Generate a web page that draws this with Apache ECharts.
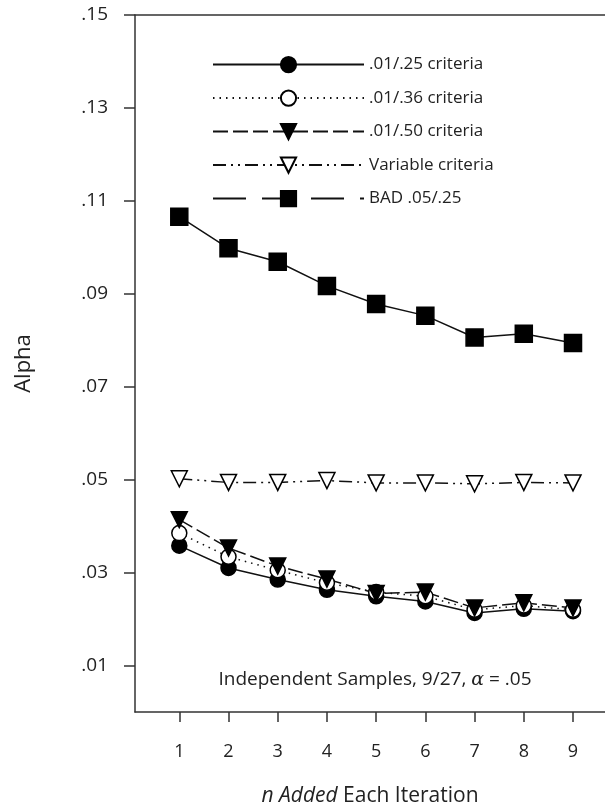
<!DOCTYPE html>
<html>
<head>
<meta charset="utf-8">
<script src="https://cdn.jsdelivr.net/npm/echarts@6/dist/echarts.min.js"></script>
<style>html,body{margin:0;padding:0;background:#fff}#c{width:605px;height:807px}</style>
</head>
<body>
<div id="c"></div>
<script>
const iterations = [1, 2, 3, 4, 5, 6, 7, 8, 9];
const yTicks = [0.01, 0.03, 0.05, 0.07, 0.09, 0.11, 0.13, 0.15];
const seriesNames = ['.01/.25 criteria', '.01/.36 criteria', '.01/.50 criteria', 'Variable criteria', 'BAD .05/.25'];
const crit25 = [0.0358, 0.0310, 0.0285, 0.0263, 0.0249, 0.0238, 0.0213, 0.0222, 0.0217];
const crit36 = [0.0385, 0.0334, 0.0305, 0.0278, 0.0258, 0.0249, 0.0220, 0.0229, 0.0220];
const crit50 = [0.0414, 0.0353, 0.0314, 0.0286, 0.0255, 0.0258, 0.0224, 0.0235, 0.0224];
const variableCrit = [0.0502, 0.0494, 0.0494, 0.0498, 0.0493, 0.0493, 0.0491, 0.0494, 0.0493];
const bad = [0.1066, 0.0998, 0.0969, 0.0917, 0.0878, 0.0853, 0.0806, 0.0814, 0.0794];

const FONT = '"Open Sans", "Noto Sans", sans-serif';
const pairs = arr => iterations.map((x, i) => [x, arr[i]]);

function mk(name, data, symbol, size, fill, dash, rotate) {
  return {
    name: name, type: 'line', data: pairs(data),
    symbol: symbol, symbolSize: size, symbolRotate: rotate || 0,
    showAllSymbol: true,
    lineStyle: { color: '#111', width: 1.5, type: dash },
    itemStyle: { color: fill, borderColor: '#000', borderWidth: 1.5, opacity: 1 },
    emphasis: { disabled: true },
    animation: false
  };
}

const chart = echarts.init(document.getElementById('c'), null, { renderer: 'canvas' });
chart.setOption({
  backgroundColor: '#fff',
  animation: false,
  textStyle: { fontFamily: FONT },
  grid: { left: 135, right: 0, top: 15, bottom: 95, outerBoundsMode: 'none' },
  legend: {
    orient: 'vertical', left: 212, top: 56, padding: 0,
    itemWidth: 151, itemHeight: 19, itemGap: 16.3,
    data: [
      { name: seriesNames[0] },
      { name: seriesNames[1] },
      { name: seriesNames[2] },
      { name: seriesNames[3] },
      { name: seriesNames[4], lineStyle: { type: [33, 16] } }
    ],
    textStyle: { fontFamily: FONT, fontSize: 17, color: '#222' },
    selectedMode: false
  },
  xAxis: [{
    type: 'value', min: 0.1, max: 9.65,
    name: '{i|n Added} Each Iteration', nameLocation: 'middle', nameGap: 74,
    nameTextStyle: { fontFamily: FONT, fontSize: 21, color: '#222',
      rich: { i: { fontStyle: 'italic', fontSize: 21, fontFamily: FONT, color: '#222' } } },
    axisLine: { show: true, lineStyle: { color: '#333', width: 1.5 } },
    axisTick: { show: true, length: 10, customValues: iterations, lineStyle: { color: '#333', width: 1.5 } },
    axisLabel: { customValues: iterations, margin: 31, fontSize: 18, color: '#222', fontFamily: FONT },
    splitLine: { show: false }
  }, {
    type: 'value', min: 0.1, max: 9.65, position: 'top',
    axisLine: { show: true, lineStyle: { color: '#333', width: 1.5 } },
    axisTick: { show: false }, axisLabel: { show: false }, splitLine: { show: false }
  }],
  yAxis: {
    type: 'value', min: 0, max: 0.15,
    name: 'Alpha', nameLocation: 'middle', nameGap: 100, nameRotate: 90,
    nameTextStyle: { fontFamily: FONT, fontSize: 22, color: '#222' },
    axisLine: { show: true, lineStyle: { color: '#333', width: 1.5 } },
    axisTick: { show: true, length: 11, customValues: yTicks, lineStyle: { color: '#333', width: 1.5 } },
    axisLabel: { customValues: yTicks, margin: 27, fontSize: 19, color: '#222', fontFamily: FONT,
      formatter: v => v.toFixed(2).replace(/^0/, '') },
    splitLine: { show: false }
  },
  graphic: [{
    type: 'text', x: 375, y: 680,
    style: {
      text: 'Independent Samples, 9/27, {a|α} = .05',
      fontFamily: FONT, fontSize: 19, fill: '#222',
      textAlign: 'center', textVerticalAlign: 'middle',
      rich: { a: { fontStyle: 'italic', fontFamily: '"DejaVu Serif", serif', fontSize: 19, fill: '#222' } }
    }
  }],
  series: [
    mk(seriesNames[0], crit25, 'circle', 15, '#000', 'solid'),
    mk(seriesNames[1], crit36, 'circle', 15, '#fff', [1.5, 5]),
    mk(seriesNames[2], crit50, 'triangle', 16, '#000', [15, 5], 180),
    mk(seriesNames[3], variableCrit, 'triangle', 16, '#fff', [13, 5, 2, 5, 2, 5], 180),
    mk(seriesNames[4], bad, 'rect', 17, '#000', 'solid')
  ]
});
</script>
</body>
</html>
